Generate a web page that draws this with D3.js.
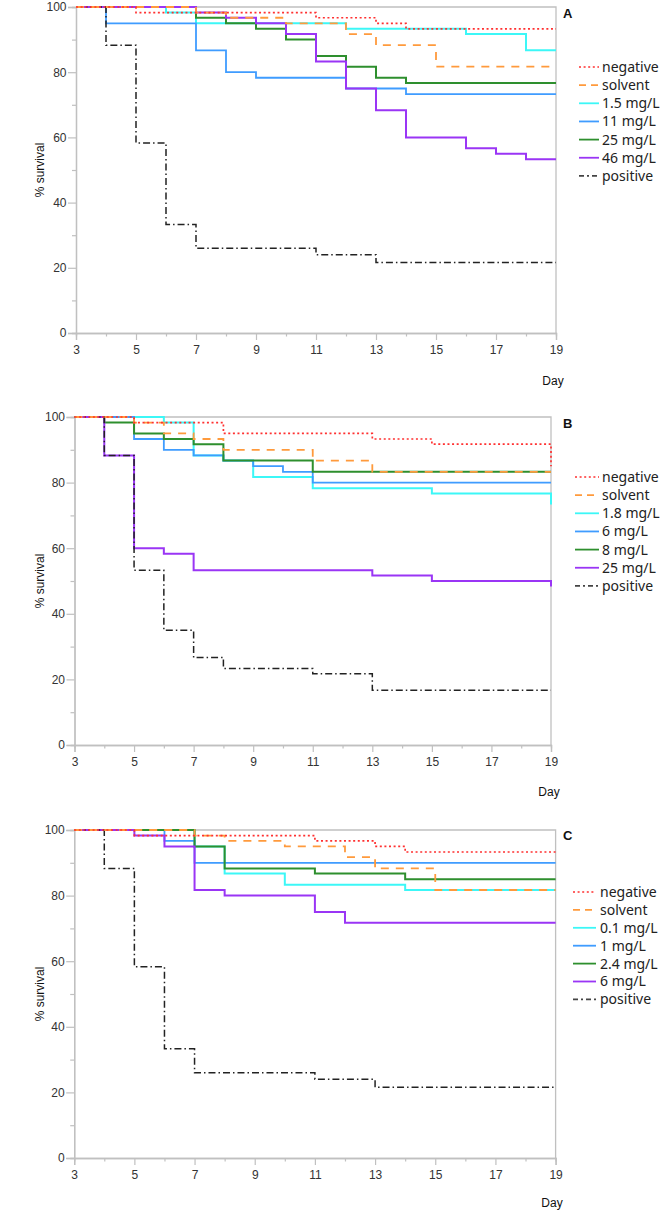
<!DOCTYPE html>
<html><head><meta charset="utf-8">
<script src="https://cdnjs.cloudflare.com/ajax/libs/d3/7.8.5/d3.min.js"></script>
<style>body{margin:0;background:#fff}</style>
</head><body><svg id="c" width="666" height="1217" xmlns="http://www.w3.org/2000/svg"></svg>
<script>
// ---------- data ----------
const dayMajorTicks = [3,5,7,9,11,13,15,17,19];
const dayMinorTicks = [4,6,8,10,12,14,16,18];
const survMajorTicks = [0,20,40,60,80,100];
const survMinorTicks = [10,30,50,70,90];
const seriesKeys = ["negative","solvent","c1","c2","c3","c4","positive"];

const legendA = ["negative","solvent","1.5 mg/L","11 mg/L","25 mg/L","46 mg/L","positive"];
const legendB = ["negative","solvent","1.8 mg/L","6 mg/L","8 mg/L","25 mg/L","positive"];
const legendC = ["negative","solvent","0.1 mg/L","1 mg/L","2.4 mg/L","6 mg/L","positive"];

// [day, % survival] at each change point (step after)
const A_negative = [[3,100],[5,98.3],[11,96.7],[13,95],[14,93.3]];
const A_solvent  = [[3,100],[7,98.3],[8,96.7],[10,95],[12,91.7],[13,88.3],[15,81.7]];
const A_c1       = [[3,100],[6,98.3],[7,95],[12,93.3],[16,91.7],[18,86.7]];
const A_c2       = [[3,100],[4,95],[7,86.7],[8,80],[9,78.3],[12,75],[14,73.3]];
const A_c3       = [[3,100],[7,96.7],[8,95],[9,93.3],[10,90],[11,85],[12,81.7],[13,78.3],[14,76.7]];
const A_c4       = [[3,100],[7,98.3],[8,96.7],[9,95],[10,91.7],[11,83.3],[12,75],[13,68.3],[14,60],[16,56.7],[17,55],[18,53.3]];
const A_positive = [[3,100],[4,88.3],[5,58.3],[6,33.3],[7,26],[11,24],[13,21.6]];

const B_negative = [[3,100],[5,98.3],[8,95],[13,93.3],[15,91.7],[19,85]];
const B_solvent  = [[3,100],[5,98.3],[6,95],[7,93.3],[8,90],[11,86.7],[13,83.3]];
const B_c1       = [[3,100],[6,98.3],[7,88.3],[8,86.7],[9,81.7],[11,78.3],[15,76.7],[19,73.3]];
const B_c2       = [[3,100],[5,93.3],[6,90],[7,88.3],[8,86.7],[9,85],[10,83.3],[11,80]];
const B_c3       = [[3,100],[4,98.3],[5,95],[6,93.3],[7,91.7],[8,86.7],[11,83.3]];
const B_c4       = [[3,100],[4,88.3],[5,60],[6,58.3],[7,53.3],[13,51.7],[15,50],[19,48.3]];
const B_positive = [[3,100],[4,88.3],[5,53.3],[6,35],[7,26.7],[8,23.3],[11,21.7],[13,16.7]];

const C_negative = [[3,100],[5,98.3],[11,96.7],[13,95],[14,93.3]];
const C_solvent  = [[3,100],[7,98.3],[8,96.7],[10,95],[12,91.7],[13,88.3],[15,81.7]];
const C_c1       = [[3,100],[7,95],[8,86.7],[10,83.3],[14,81.7]];
const C_c2       = [[3,100],[6,96.7],[7,90]];
const C_c3       = [[3,100],[7,95],[8,88.3],[11,86.7],[14,85]];
const C_c4       = [[3,100],[5,98.3],[6,95],[7,81.7],[8,80],[11,75],[12,71.7]];
const C_positive = [[3,100],[4,88.3],[5,58.3],[6,33.3],[7,26],[11,24],[13,21.6]];

// ---------- styles ----------
const styles = {
  negative:{stroke:"#ff3030", w:1.7, dash:"2,2.6"},
  solvent: {stroke:"#ff9a3c", w:1.8, dash:"8,7"},
  c1:      {stroke:"#3cf7f7", w:2.0, dash:null},
  c2:      {stroke:"#3f9cff", w:1.8, dash:null},
  c3:      {stroke:"#2e8f2e", w:2.0, dash:null},
  c4:      {stroke:"#9a35f5", w:2.0, dash:null},
  positive:{stroke:"#222",    w:1.5, dash:"7,3,1.5,3"}
};
const drawOrder = ["c1","c2","c3","c4","positive","solvent","negative"];

const panels = [
  {id:"A", x0:76, x1:556, yT:7, yB:333, legend:legendA, leg:{lx0:579,lx1:599,tx:602,y0:67,dy:18.15},
   lab:{x:563,y:18}, day:{x:553,y:385}, data:{negative:A_negative,solvent:A_solvent,c1:A_c1,c2:A_c2,c3:A_c3,c4:A_c4,positive:A_positive}},
  {id:"B", x0:74.5, x1:551, yT:417, yB:745, legend:legendB, leg:{lx0:575,lx1:599,tx:602,y0:477,dy:18.15},
   lab:{x:563,y:428}, day:{x:549,y:796}, data:{negative:B_negative,solvent:B_solvent,c1:B_c1,c2:B_c2,c3:B_c3,c4:B_c4,positive:B_positive}},
  {id:"C", x0:74.2, x1:555.6, yT:830, yB:1158, legend:legendC, leg:{lx0:573,lx1:596,tx:600,y0:892,dy:17.9},
   lab:{x:563,y:840}, day:{x:552,y:1207}, data:{negative:C_negative,solvent:C_solvent,c1:C_c1,c2:C_c2,c3:C_c3,c4:C_c4,positive:C_positive}}
];

const svg = d3.select("#c");
const gray = "#c0c0c0";
const tickFont = "Liberation Sans, Arial, sans-serif";

panels.forEach(p => {
  const x = d3.scaleLinear().domain([3,19]).range([p.x0,p.x1]);
  const y = d3.scaleLinear().domain([0,100]).range([p.yB,p.yT]);
  const g = svg.append("g");

  // minor ticks
  const axMinX = g.append("g").attr("transform",`translate(0,${p.yB})`)
    .call(d3.axisBottom(x).tickValues(dayMinorTicks).tickSize(3.5).tickFormat(""));
  const axMinY = g.append("g").attr("transform",`translate(${p.x0},0)`)
    .call(d3.axisLeft(y).tickValues(survMinorTicks).tickSize(4).tickFormat(""));
  const axX = g.append("g").attr("transform",`translate(0,${p.yB})`)
    .call(d3.axisBottom(x).tickValues(dayMajorTicks).tickSize(7).tickPadding(5).tickFormat(d3.format("d")));
  const axY = g.append("g").attr("transform",`translate(${p.x0},0)`)
    .call(d3.axisLeft(y).tickValues(survMajorTicks).tickSize(8).tickPadding(1.5).tickFormat(d3.format("d")));
  [axMinX,axMinY,axX,axY].forEach(a=>{
    a.selectAll("path.domain").attr("stroke",gray).attr("stroke-width",1.3);
    a.selectAll(".tick line").attr("stroke",gray).attr("stroke-width",1.2);
    a.selectAll(".tick text").attr("fill","#333").style("font-family",tickFont).style("font-size","12px");
  });

  // frame (top + right)
  g.append("path").attr("d",`M${p.x0},${p.yT}H${p.x1}V${p.yB}`)
    .attr("fill","none").attr("stroke",gray).attr("stroke-width",1.3);

  // survival step lines
  const line = d3.line().x(d=>x(d[0])).y(d=>y(d[1])).curve(d3.curveStepAfter);
  drawOrder.forEach(k => {
    const pts = p.data[k].slice();
    const last = pts[pts.length-1];
    if (last[0] < 19) pts.push([19,last[1]]);
    const s = styles[k];
    g.append("path").datum(pts).attr("d",line).attr("fill","none")
      .attr("stroke",s.stroke).attr("stroke-width",s.w)
      .attr("stroke-dasharray",s.dash).attr("stroke-linejoin","miter");
  });

  // legend
  const lg = g.append("g");
  seriesKeys.forEach((k,i) => {
    const s = styles[k];
    const yy = p.leg.y0 + i*p.leg.dy;
    let dash = s.dash;
    if (k==="solvent") dash = "7,5";
    if (k==="positive") dash = "5,3,2,3";
    lg.append("line").attr("x1",p.leg.lx0).attr("x2",p.leg.lx1).attr("y1",yy).attr("y2",yy)
      .attr("stroke",k==="positive"?"#444":s.stroke).attr("stroke-width",k==="negative"?1.6:1.8)
      .attr("stroke-dasharray",dash);
    lg.append("text").attr("x",p.leg.tx).attr("y",yy).attr("dy","0.35em")
      .attr("fill","#222").style("font-family","Noto Sans, Open Sans, sans-serif").style("font-size","14px")
      .text(p.legend[i]);
  });

  // panel letter
  g.append("text").attr("x",p.lab.x).attr("y",p.lab.y).attr("fill","#111")
    .style("font-family",tickFont).style("font-size","13px").style("font-weight","bold").text(p.id);
  // axis titles
  g.append("text").attr("x",p.day.x).attr("y",p.day.y).attr("text-anchor","middle").attr("fill","#111")
    .style("font-family",tickFont).style("font-size","12px").text("Day");
  g.append("text").attr("transform",`translate(44,${(p.yT+p.yB)/2}) rotate(-90)`).attr("text-anchor","middle")
    .attr("fill","#111").style("font-family",tickFont).style("font-size","12px").text("% survival");
});
</script></body></html>
